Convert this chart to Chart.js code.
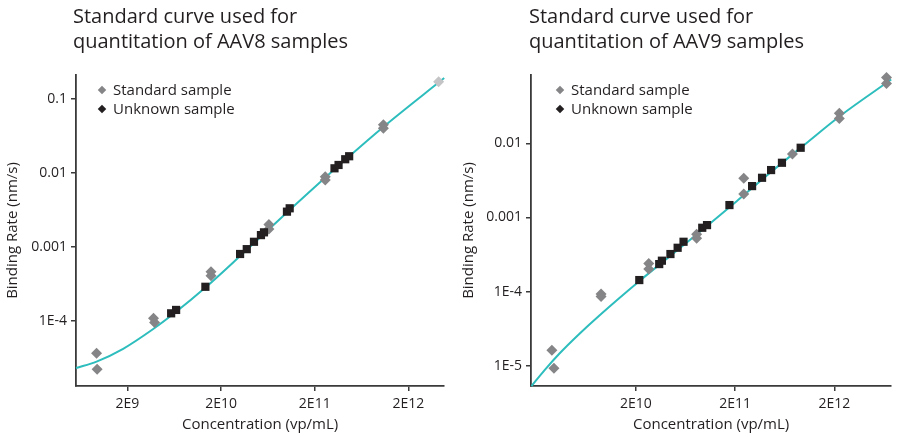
<!DOCTYPE html>
<html>
<head>
<meta charset="utf-8">
<script src="https://cdn.jsdelivr.net/npm/chart.js@4/dist/chart.umd.min.js"></script>
<style>
  html, body { margin: 0; padding: 0; background: #fff; }
  #wrap { position: relative; width: 897px; height: 437px; overflow: hidden; font-family: "Open Sans", Lato, sans-serif; color: #231f20; }
  canvas { position: absolute; top: 0; }
  .title { position: absolute; top: 3px; font-size: 20px; line-height: 25px; color: #231f20; white-space: nowrap; }
  .legend { position: absolute; font-size: 15px; line-height: 19px; color: #231f20; white-space: nowrap; }
  .legend div { position: relative; padding-left: 11px; }
  .legend span { position: absolute; left: -3px; top: 6.5px; width: 6px; height: 6px; transform: rotate(45deg); }
</style>
</head>
<body>
<div id="wrap">
  <canvas id="aav8" width="450" height="437" style="left:0"></canvas>
  <canvas id="aav9" width="447" height="437" style="left:450px"></canvas>
  <div class="title" style="left:73px">Standard curve used for<br>quantitation of AAV8 samples</div>
  <div class="title" style="left:529px">Standard curve used for<br>quantitation of AAV9 samples</div>
  <div class="legend" style="left:102px; top:80px">
    <div><span style="background:#858587"></span>Standard sample</div>
    <div><span style="background:#231f20"></span>Unknown sample</div>
  </div>
  <div class="legend" style="left:560px; top:80px">
    <div><span style="background:#858587"></span>Standard sample</div>
    <div><span style="background:#231f20"></span>Unknown sample</div>
  </div>
</div>
<script>
// ---- AAV8 ----
const aav8XTicks = [2e9, 2e10, 2e11, 2e12];
const aav8XLabels = ['2E9', '2E10', '2E11', '2E12'];
const aav8YTicks = [0.1, 0.01, 0.001, 1e-4];
const aav8YLabels = ['0.1', '0.01', '0.001', '1E-4'];

const aav8StdConc = [9.37e8, 9.5e8, 3.8e9, 3.9e9, 1.56e10, 1.56e10, 6.48e10, 6.48e10, 2.59e11, 2.59e11, 1.08e12, 1.08e12];
const aav8StdRate = [3.62e-5, 2.2e-5, 1.08e-4, 9.5e-5, 4.6e-4, 4.07e-4, 2.01e-3, 1.74e-3, 8.9e-3, 8.0e-3, 0.0449, 0.0401];
const aav8ExclConc = [4.2e12];
const aav8ExclRate = [0.171];
const aav8UnkConc = [5.86e9, 6.62e9, 1.36e10, 3.19e10, 3.76e10, 4.49e10, 5.33e10, 5.74e10, 1.01e11, 1.08e11, 3.25e11, 3.59e11, 4.23e11, 4.66e11];
const aav8UnkRate = [1.26e-4, 1.40e-4, 2.88e-4, 8.0e-4, 9.3e-4, 1.17e-3, 1.44e-3, 1.57e-3, 2.99e-3, 3.32e-3, 0.01154, 0.0128, 0.0153, 0.0168];
const aav8FitConc = [5.65e8, 9.37e8, 1.8e9, 3.74e9, 6.62e9, 1.36e10, 3.19e10, 1.03e11, 4.26e11, 1.08e12, 4.82e12];
const aav8FitRate = [2.29e-5, 2.80e-5, 4.17e-5, 7.66e-5, 1.32e-4, 2.81e-4, 7.5e-4, 2.98e-3, 0.01514, 0.0419, 0.192];

// ---- AAV9 ----
const aav9XTicks = [2e10, 2e11, 2e12];
const aav9XLabels = ['2E10', '2E11', '2E12'];
const aav9YTicks = [0.01, 0.001, 1e-4, 1e-5];
const aav9YLabels = ['0.01', '0.001', '1E-4', '1E-5'];

const aav9StdConc = [2.84e9, 2.98e9, 8.9e9, 8.9e9, 2.69e10, 2.69e10, 8.17e10, 8.17e10, 2.44e11, 2.44e11, 7.55e11, 2.24e12, 2.24e12, 6.7e12, 6.7e12];
const aav9StdRate = [1.62e-5, 9.2e-6, 9.3e-5, 8.6e-5, 2.40e-4, 2.01e-4, 5.92e-4, 5.23e-4, 3.37e-3, 2.07e-3, 7.2e-3, 0.0254, 0.0217, 0.0776, 0.0644];
const aav9UnkConc = [2.16e10, 3.43e10, 3.65e10, 4.45e10, 5.26e10, 6.03e10, 9.31e10, 1.04e11, 1.75e11, 2.96e11, 3.73e11, 4.60e11, 5.92e11, 9.14e11];
const aav9UnkRate = [1.43e-4, 2.35e-4, 2.61e-4, 3.21e-4, 3.90e-4, 4.70e-4, 7.26e-4, 7.89e-4, 1.47e-3, 2.65e-3, 3.43e-3, 4.36e-3, 5.47e-3, 8.72e-3];
const aav9FitConc = [1.77e9, 2.4e9, 3.39e9, 5.36e9, 8.45e9, 2.14e10, 4.69e10, 1.04e11, 2.07e11, 4.6e11, 1.02e12, 2.28e12, 7.47e12];
const aav9FitRate = [5.31e-6, 8.72e-6, 1.46e-5, 2.68e-5, 4.69e-5, 1.37e-4, 3.22e-4, 7.68e-4, 1.66e-3, 4.11e-3, 9.82e-3, 0.0234, 0.0726];

const TEAL = '#2dbdbd';
const GREY = '#858587';
const LIGHT = '#c4c4c6';
const DARK = '#231f20';
const AXIS = '#3a3a3a';
const FONT = '"Open Sans", Lato, sans-serif';

const pts = (xs, ys) => xs.map((x, i) => ({ x, y: ys[i] }));

function logAxis(min, max, ticks, labels, fitSize, horizontal, title, titlePad) {
  return {
    type: 'logarithmic',
    min, max,
    afterBuildTicks: s => { s.ticks = ticks.map(v => ({ value: v })); },
    afterFit: s => { if (horizontal) s.height = fitSize; else s.width = fitSize; },
    ticks: {
      autoSkip: false,
      maxRotation: 0,
      padding: horizontal ? 5 : 4,
      color: DARK,
      font: { family: FONT, size: 14 },
      callback: (v, i) => labels[i]
    },
    grid: { display: true, drawOnChartArea: false, drawTicks: true, tickLength: 5, color: AXIS, lineWidth: 1.5 },
    border: { display: true, color: AXIS, width: 1.8 },
    title: {
      display: true, text: title, color: DARK,
      font: { family: FONT, size: 15 },
      padding: titlePad
    }
  };
}

function makeChart(id, cfg) {
  const datasets = [
    { type: 'line', data: pts(cfg.fitX, cfg.fitY), borderColor: TEAL, borderWidth: 2,
      pointRadius: 0, cubicInterpolationMode: 'monotone', order: 4, clip: false },
    { data: pts(cfg.stdX, cfg.stdY), backgroundColor: GREY, borderWidth: 0,
      pointStyle: 'rectRot', pointRadius: 5.5, order: 3, clip: false },
    { data: pts(cfg.unkX, cfg.unkY), backgroundColor: DARK, borderWidth: 0,
      pointStyle: 'rect', pointRadius: 5.8, order: 1, clip: false }
  ];
  if (cfg.exX) {
    datasets.push({ data: pts(cfg.exX, cfg.exY), backgroundColor: LIGHT, borderWidth: 0,
      pointStyle: 'rectRot', pointRadius: 5.5, order: 2, clip: false });
  }
  return new Chart(document.getElementById(id), {
    type: 'scatter',
    data: { datasets },
    options: {
      responsive: false,
      devicePixelRatio: 1,
      animation: false,
      layout: { padding: { top: 75, right: cfg.padRight, bottom: 0, left: 0 } },
      plugins: { legend: { display: false }, tooltip: { enabled: false } },
      scales: {
        x: logAxis(cfg.xMin, cfg.xMax, cfg.xTicks, cfg.xLabels, 51, true,
                   'Concentration (vp/mL)', { top: 0, bottom: 3 }),
        y: logAxis(cfg.yMin, cfg.yMax, cfg.yTicks, cfg.yLabels, cfg.yWidth, false,
                   'Binding Rate (nm/s)', { top: cfg.yTitlePad, bottom: 0 })
      }
    }
  });
}

makeChart('aav8', {
  fitX: aav8FitConc, fitY: aav8FitRate,
  stdX: aav8StdConc, stdY: aav8StdRate,
  unkX: aav8UnkConc, unkY: aav8UnkRate,
  exX: aav8ExclConc, exY: aav8ExclRate,
  xTicks: aav8XTicks, xLabels: aav8XLabels,
  yTicks: aav8YTicks, yLabels: aav8YLabels,
  xMin: 5.65e8, xMax: 4.82e12, yMin: 1.31e-5, yMax: 0.211,
  yWidth: 76, padRight: 4, yTitlePad: 4
});

makeChart('aav9', {
  fitX: aav9FitConc, fitY: aav9FitRate,
  stdX: aav9StdConc, stdY: aav9StdRate,
  unkX: aav9UnkConc, unkY: aav9UnkRate,
  xTicks: aav9XTicks, xLabels: aav9XLabels,
  yTicks: aav9YTicks, yLabels: aav9YLabels,
  xMin: 1.75e9, xMax: 7.47e12, yMin: 5.32e-6, yMax: 0.0836,
  yWidth: 81, padRight: 0, yTitlePad: 10
});
</script>
</body>
</html>
